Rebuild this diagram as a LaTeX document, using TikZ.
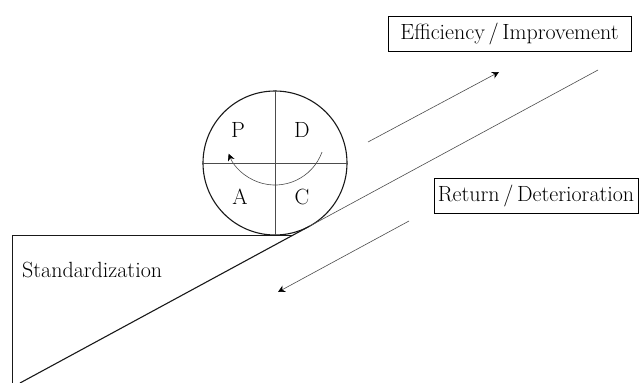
\documentclass[tikz,border=0pt]{standalone}
\usetikzlibrary{arrows.meta}
\begin{document}
\begin{tikzpicture}[x=1pt,y=-1pt,
  txt/.style={font=\fontsize{22}{26}\selectfont, inner sep=0pt},
  labelbox/.style={draw, line width=0.9pt, font=\fontsize{22}{26}\selectfont, minimum height=35pt, inner xsep=2pt},
  thin gray/.style={draw=black!70, line width=0.6pt},
  heavy/.style={draw=black!90, line width=1.1pt},
  tip/.style={-{Stealth[length=7pt,width=7pt,color=black]}}
]
\useasboundingbox (0,0) rectangle (643,383);
% wheel
\node[heavy, circle, minimum size=144pt, inner sep=0pt] (wheel) at (275,163) {};
\draw[thin gray] (wheel.north) -- (wheel.south);
\draw[thin gray] (wheel.west) -- (wheel.east);
\node[txt] (P) at (238,130) {P};
\node[txt] (D) at (302,130) {D};
\node[txt] (A) at (240,197) {A};
\node[txt] (C) at (302,197) {C};
\draw[thin gray, tip] (275,135) ++(20:50) arc[start angle=20, end angle=158, radius=50];
% slope
\coordinate (base) at (20,383);
\coordinate (touch) at (309.3,226.3);
\coordinate (top) at (598,70);
\coordinate (corner) at (293.3,235);
\coordinate (topleft) at (12,235);
\coordinate (botleft) at (12,383);
\draw[heavy] (base) -- (touch);
\draw[thin gray] (touch) -- (top);
\draw[heavy, line width=0.9pt] (botleft) -- (topleft) -- (corner);
\node[txt, anchor=base west] (std) at (22,277) {Standardization};
% labels
\node[labelbox, minimum width=243pt] (eff) at (509.5,33.5) {Efficiency\,/\,Improvement};
\node[labelbox, minimum width=204pt] (ret) at (536,195.5) {Return\,/\,Deterioration};
% arrows
\coordinate (up0) at (368,142);
\coordinate (up1) at (499,72);
\coordinate (dn0) at (409,221);
\coordinate (dn1) at (278,292);
\draw[thin gray, tip] (up0) -- (up1);
\draw[thin gray, tip] (dn0) -- (dn1);
\end{tikzpicture}
\end{document}
